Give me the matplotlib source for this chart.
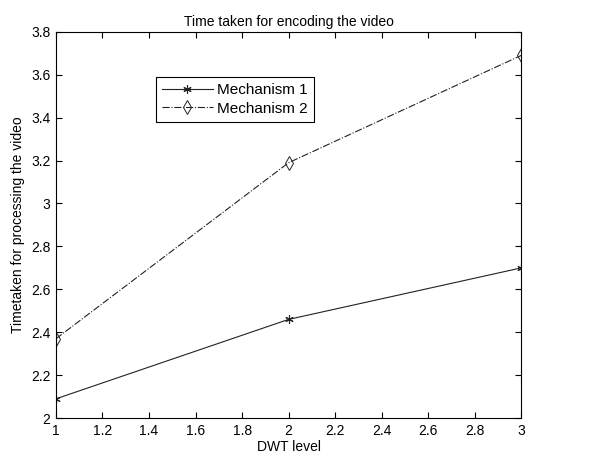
import matplotlib
matplotlib.use('Agg')
import matplotlib.pyplot as plt

## data
dwt_level   = [1, 2, 3]
mechanism_1 = [2.09, 2.46, 2.70]
mechanism_2 = [2.37, 3.19, 3.69]

xticks = [1, 1.2, 1.4, 1.6, 1.8, 2, 2.2, 2.4, 2.6, 2.8, 3]
xtick_labels = ['1', '1.2', '1.4', '1.6', '1.8', '2', '2.2', '2.4', '2.6', '2.8', '3']
yticks = [2, 2.2, 2.4, 2.6, 2.8, 3, 3.2, 3.4, 3.6, 3.8]
ytick_labels = ['2', '2.2', '2.4', '2.6', '2.8', '3', '3.2', '3.4', '3.6', '3.8']

plt.rcParams['font.family'] = ['Liberation Sans', 'DejaVu Sans']
fs = 10

fig = plt.figure(figsize=(5.89, 4.54), dpi=100, facecolor='w')
ax = fig.add_axes([0.095, 0.079, 0.790, 0.851])

ax.plot(dwt_level, mechanism_1, color='#222222', ls='-', lw=0.8,
        marker=(6, 2, 0), ms=6, mew=0.8, label='Mechanism 1')
ax.plot(dwt_level, mechanism_2, color='#222222', ls='-.', lw=0.8,
        marker='d', ms=7, mew=0.7, mfc='none', label='Mechanism 2')

ax.set_xlim(1, 3)
ax.set_ylim(2, 3.8)
ax.set_xticks(xticks)
ax.set_xticklabels(xtick_labels)
ax.set_yticks(yticks)
ax.set_yticklabels(ytick_labels)
ax.tick_params(axis='both', direction='in', top=True, right=True,
               length=4, width=0.8, labelsize=fs, pad=4)
for sp in ax.spines.values():
    sp.set_linewidth(0.8)

ax.set_title('Time taken for encoding the video', fontsize=fs, pad=4)
ax.set_xlabel('DWT level', fontsize=fs, labelpad=2)
ax.set_ylabel('Timetaken for processing the video', fontsize=fs, labelpad=4)

leg = ax.legend(loc='upper left', bbox_to_anchor=(0.215, 0.883), fontsize=11,
                frameon=True, fancybox=False, edgecolor='k', framealpha=1,
                borderpad=0.4, handlelength=3.3, labelspacing=0.3,
                handletextpad=0.3, borderaxespad=0)
leg.get_frame().set_linewidth(0.8)

plt.savefig('out.png', dpi=100)
plt.close()
